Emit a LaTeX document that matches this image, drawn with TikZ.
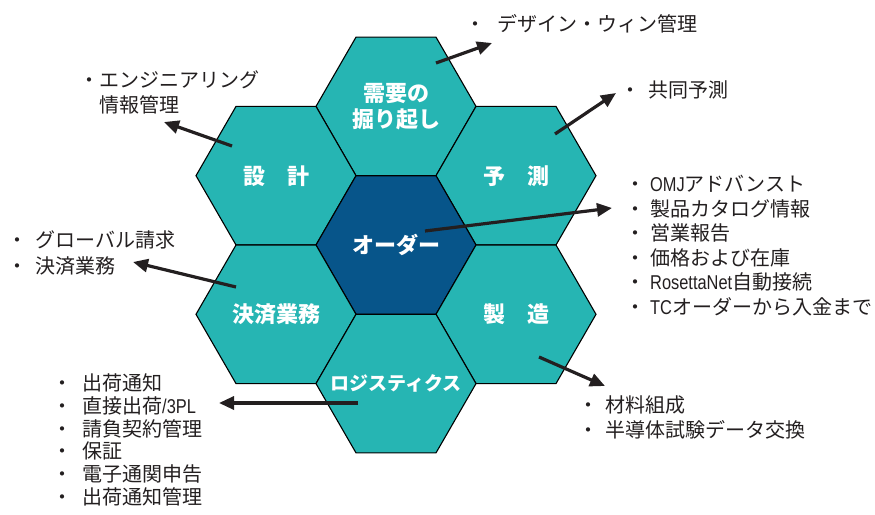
\documentclass[tikz,border=0pt]{standalone}
\usepackage{fontspec}
\setmainfont{Noto Sans CJK JP}
\newfontfamily\lat[FakeStretch=0.82]{Liberation Sans}
\usetikzlibrary{shapes.geometric,arrows.meta}
\definecolor{teal1}{HTML}{26B5B3}
\definecolor{navy1}{HTML}{07558A}
\definecolor{ink}{HTML}{231F20}
\begin{document}
\begin{tikzpicture}[x=1pt,y=-1pt,
  hexa/.style={regular polygon, regular polygon sides=6, minimum size=160pt,
    inner sep=0pt, outer sep=0pt, draw=black, line width=1.1pt, fill=teal1,
    text=white, font=\fontsize{22}{26}\selectfont\bfseries, align=center},
  arr/.style={draw=ink, line width=3.2pt, -{Triangle[length=15pt,width=13pt]}},
  lst/.style={inner sep=0pt, anchor=west, text=ink, font=\fontsize{20}{24}\selectfont}]
\useasboundingbox (0,0) rectangle (875,514);

% hexagons
\node[hexa] (dem) at (396,106.4) {需要の\\掘り起し};
\node[hexa] (des) at (276,175.7) {設　計};
\node[hexa] (fc)  at (516,175.7) {予　測};
\node[hexa, fill=navy1] (ord) at (396,245) {オーダー};
\node[hexa] (pay) at (276,314.3) {決済業務};
\node[hexa] (mfg) at (516,314.3) {製　造};
\node[hexa, font=\fontsize{19}{22}\selectfont\bfseries] (log) at (396,383.6)
  {\raisebox{3pt}{\makebox[0pt]{ロジスティクス}}};

% arrow ends
\coordinate (s1) at (436,63);  \coordinate (t1) at (492,43);
\coordinate (s2) at (555,134); \coordinate (t2) at (616,93);
\coordinate (s3) at (232,146); \coordinate (t3) at (164,122);
\coordinate (s4) at (236,287); \coordinate (t4) at (133,262);
\coordinate (s5) at (425,231); \coordinate (t5) at (612,208);
\coordinate (s6) at (358,403); \coordinate (t6) at (219,403);
\coordinate (s7) at (539,357); \coordinate (t7) at (605,386);
\foreach \i in {1,...,7} \draw[arr] (s\i) -- (t\i);

% lists
\node[lst] (la1) at (79,80) {・エンジニアリング};
\node[lst] (la2) at (99,105) {情報管理};

\node[lst] (lb1) at (7,240) {・\hspace{8pt}グローバル請求};
\node[lst] (lb2) at (7,266) {・\hspace{8pt}決済業務};

\node[lst] (lc1) at (465,24) {・\hspace{12pt}デザイン・ウィン管理};

\node[lst] (ld1) at (620,90) {・\hspace{8pt}共同予測};

\node[lst] (le1) at (625,184)   {・\hspace{5pt}{\lat OMJ}アドバンスト};
\node[lst] (le2) at (625,208.5) {・\hspace{5pt}製品カタログ情報};
\node[lst] (le3) at (625,233)   {・\hspace{5pt}営業報告};
\node[lst] (le4) at (625,257.5) {・\hspace{5pt}価格および在庫};
\node[lst] (le5) at (625,282)   {・\hspace{5pt}{\lat RosettaNet}自動接続};
\node[lst] (le6) at (625,306.5) {・\hspace{5pt}{\lat TC}オーダーから入金まで};

\node[lst] (lf1) at (52,383)   {・\hspace{10pt}出荷通知};
\node[lst] (lf2) at (52,405.8) {・\hspace{10pt}直接出荷{\lat /3PL}};
\node[lst] (lf3) at (52,428.6) {・\hspace{10pt}請負契約管理};
\node[lst] (lf4) at (52,451.4) {・\hspace{10pt}保証};
\node[lst] (lf5) at (52,474.2) {・\hspace{10pt}電子通関申告};
\node[lst] (lf6) at (52,497)   {・\hspace{10pt}出荷通知管理};

\node[lst] (lg1) at (578,405) {・\hspace{7pt}材料組成};
\node[lst] (lg2) at (578,430) {・\hspace{7pt}半導体試験データ交換};
\end{tikzpicture}
\end{document}
